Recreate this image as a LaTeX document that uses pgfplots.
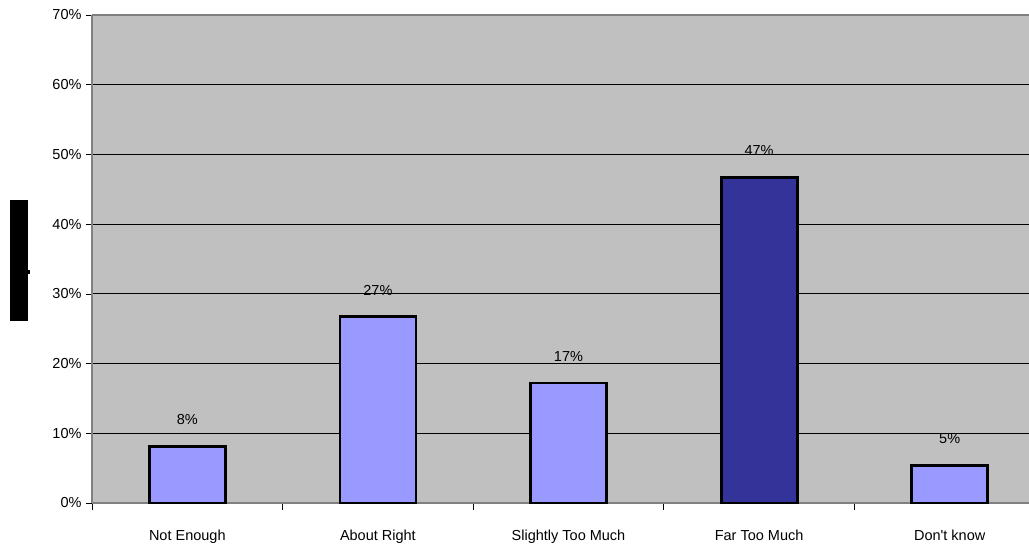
\documentclass[border=0pt]{standalone}
\usepackage{pgfplots}
\pgfplotsset{compat=1.18}
\usepackage{fontspec}
\setmainfont{Liberation Sans}
\definecolor{bg}{HTML}{C0C0C0}
\definecolor{lightbar}{HTML}{9999FF}
\definecolor{darkbar}{HTML}{333399}
\definecolor{axgray}{HTML}{808080}
\begin{document}
\begin{tikzpicture}[x=1pt,y=1pt]
\useasboundingbox (0,0) rectangle (1029,546);
\fill[black] (10,225) rectangle (28,346);
\fill[black] (28,272) rectangle (29.5,276);
\begin{axis}[
  at={(92pt,43pt)}, anchor=south west,
  scale only axis, width=953pt, height=488pt,
  xmin=0.5, xmax=5.5, ymin=0, ymax=70,
  axis background/.style={fill=bg},
  axis line style={axgray, line width=1.2pt},
  axis y line*=left, axis x line*=bottom,
  ytick={0,10,...,70},
  yticklabel={\pgfmathprintnumber{\tick}\%},
  ymajorgrids, major grid style={black, line width=0.8pt},
  xtick={1,...,5},
  xticklabels={Not Enough, About Right, Slightly Too Much, Far Too Much, Don\textquotesingle t know},
  minor xtick={0.5,1.5,...,5.5},
  major x tick style={draw=none},
  minor x tick style={black, line width=0.7pt},
  y tick style={black, line width=0.7pt},
  tick align=outside,
  major tick length=6pt, minor tick length=7pt,
  xticklabel style={yshift=-17pt},
  yticklabel style={xshift=-1pt},
  tick label style={font=\fontsize{14.5}{16}\selectfont},
  /pgf/number format/assume math mode=true,
  clip=false,
]
\draw[axgray, line width=1.2pt] (axis cs:0.5,70) -- (axis cs:5.5,70);
\addplot[ybar, bar width=76pt, fill=lightbar, draw=black, line width=2.8pt,
  nodes near coords={\pgfmathprintnumber[fixed,precision=0]{\pgfplotspointmeta}\%},
  point meta=explicit,
  every node near coord/.append style={black, font=\fontsize{14.5}{16}\selectfont, yshift=17pt}]
  coordinates {(1,8.1) [8] (2,26.7) [27] (3,17.2) [17] (5,5.4) [5]};
\addplot[ybar, bar width=76pt, fill=darkbar, draw=black, line width=2.8pt,
  nodes near coords={\pgfmathprintnumber[fixed,precision=0]{\pgfplotspointmeta}\%},
  point meta=explicit,
  every node near coord/.append style={black, font=\fontsize{14.5}{16}\selectfont, yshift=17pt}]
  coordinates {(4,46.7) [47]};
\end{axis}
\end{tikzpicture}
\end{document}
